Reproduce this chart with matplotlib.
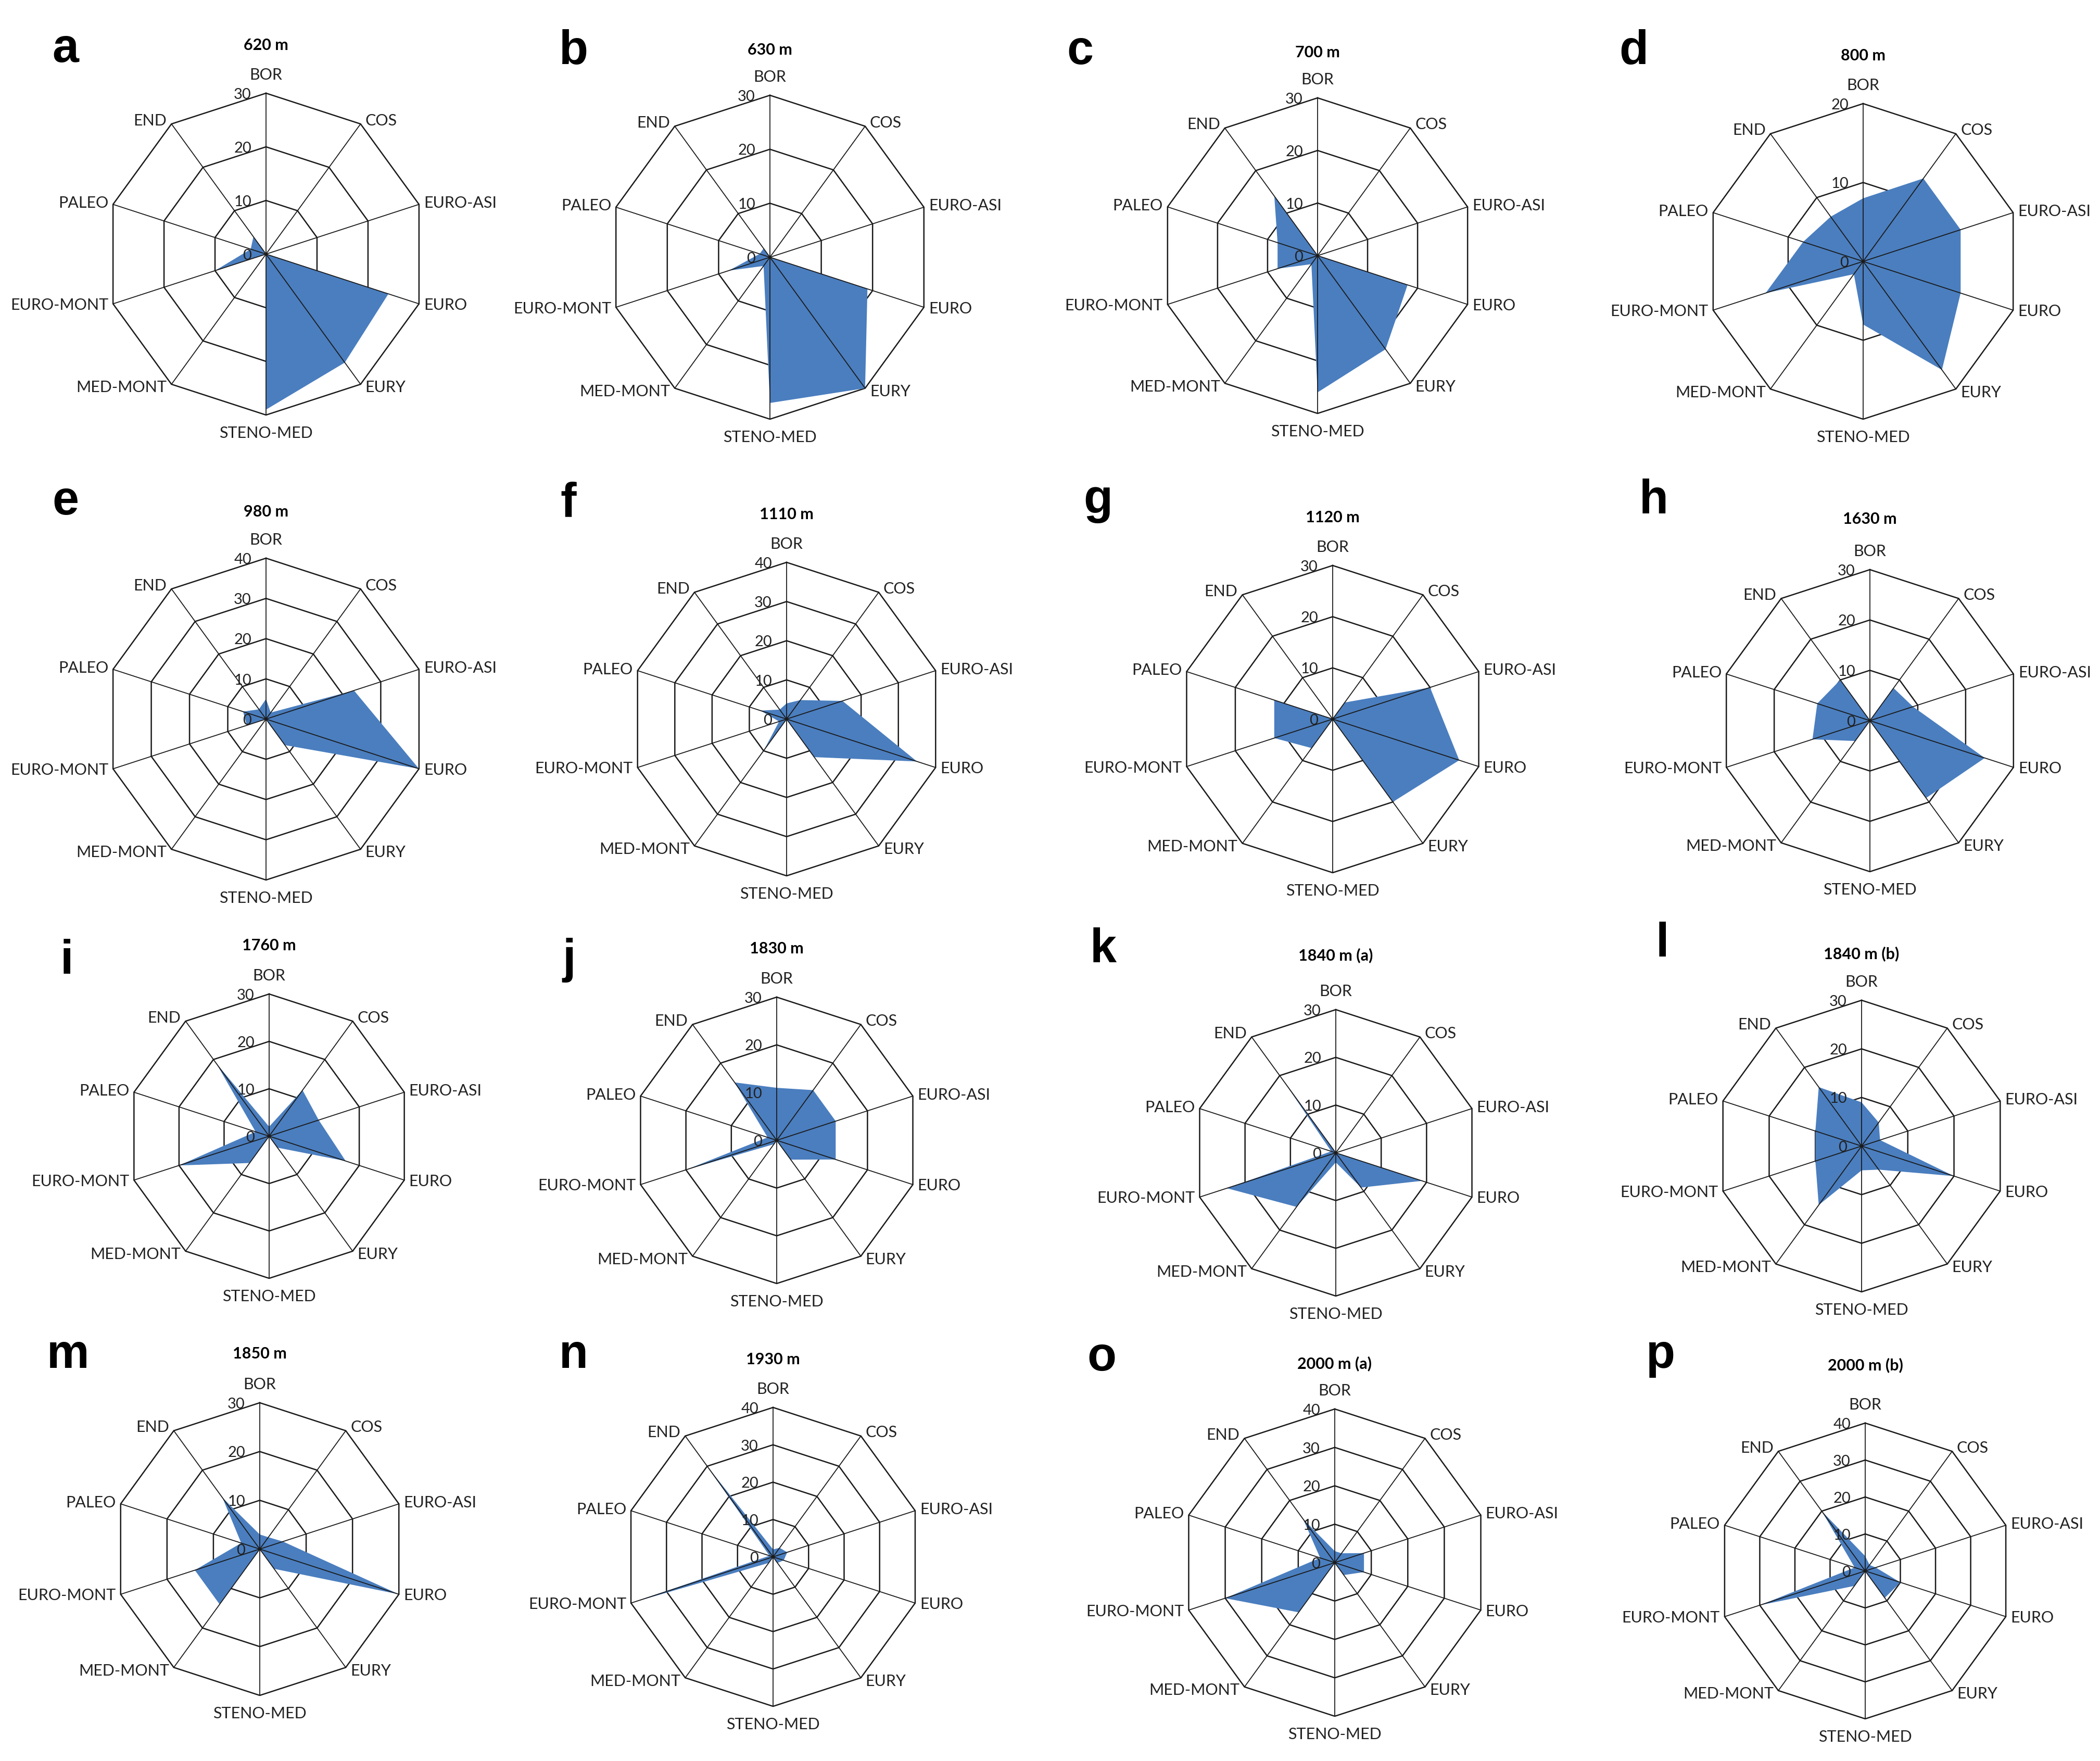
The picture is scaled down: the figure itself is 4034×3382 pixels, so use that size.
import numpy as np
import matplotlib.pyplot as plt

plt.rcParams['font.family'] = ['Lato', 'DejaVu Sans']

# chorotype spectra, clockwise from the top axis
categories = ['BOR', 'COS', 'EURO-ASI', 'EURO', 'EURY', 'STENO-MED',
              'MED-MONT', 'EURO-MONT', 'PALEO', 'END']
letters = list('abcdefghijklmnop')
titles = ['620 m', '630 m', '700 m', '800 m', '980 m', '1110 m', '1120 m',
          '1630 m', '1760 m', '1830 m', '1840 m (a)', '1840 m (b)',
          '1850 m', '1930 m', '2000 m (a)', '2000 m (b)']
scale_max = [30, 30, 30, 20, 40, 40, 30, 30, 30, 30, 30, 30, 30, 40, 40, 40]

v620 = [0, 0, 0, 24, 25, 29, 0, 10, 3, 4]
v630 = [0, 0, 0, 19, 30, 27, 2, 8, 2, 2]
v700 = [0, 0, 0, 18, 22, 26, 2, 8, 8, 14]
v800 = [8, 13, 13, 13, 17, 8, 2, 13, 8, 7]
v980 = [5, 2, 23, 40, 8, 0, 0, 5, 6, 3]
v1110 = [4, 6, 15, 35, 12, 0, 10, 2, 7, 3]
v1120 = [0, 4, 20, 26, 20, 0, 7, 12, 12, 0]
v1630 = [0, 8, 9, 24, 19, 0, 5, 12, 11, 10]
v1760 = [2, 12, 11, 17, 3, 0, 7, 20, 3, 19]
v1830 = [11, 13, 13, 13, 5, 0, 1, 20, 2, 15]
v1840a = [0, 0, 0, 19, 9, 2, 14, 24, 1, 19]
v1840b = [9, 6, 4, 20, 6, 5, 15, 10, 10, 15]
v1850 = [3, 3, 5, 30, 5, 0, 14, 14, 4, 13]
v1930 = [2, 3, 4, 3, 2, 0, 2, 40, 1, 30]
v2000a = [3, 3, 8, 8, 4, 0, 16, 30, 4, 14]
v2000b = [4, 2, 3, 10, 9, 0, 5, 30, 3, 20]

panels = [v620, v630, v700, v800, v980, v1110, v1120, v1630,
          v1760, v1830, v1840a, v1840b, v1850, v1930, v2000a, v2000b]

# layout in pixels of the 4034 x 3382 canvas
W, H = 4034, 3382
centers = [(511, 488), (1479, 494), (2531, 491), (3579, 502),
           (511, 1381), (1511, 1381), (2560, 1381), (3592, 1384),
           (517, 2182), (1492, 2190), (2566, 2214), (3576, 2201),
           (499, 2975), (1485, 2990), (2564, 3001), (3583, 3017)]
radii = [309, 311, 303, 303, 309, 301, 295, 290,
         273, 275, 275, 280, 281, 287, 295, 284]
title_y = [87, 96, 101, 107, 983, 988, 994, 997,
           1816, 1822, 1835, 1832, 2600, 2611, 2619, 2622]
letter_xy = [(100, 119), (1074, 123), (2049, 123), (3110, 123),
             (100, 988), (1076, 991), (2081, 986), (3149, 986),
             (116, 1870), (1080, 1868), (2094, 1848), (3181, 1837),
             (90, 2627), (1074, 2627), (2088, 2632), (3162, 2627)]

FILL = '#4a7ebf'
LINE = '#1a1a1a'
PT = 0.72  # points per pixel at dpi 100

fig = plt.figure(figsize=(W / 100, H / 100), dpi=100)
theta = np.linspace(0, 2 * np.pi, len(categories), endpoint=False)
closed = np.append(theta, theta[0])

for k in range(len(panels)):
    cx, cy = centers[k]
    R = radii[k]
    top = scale_max[k]
    ax = fig.add_axes([(cx - R) / W, 1 - (cy + R) / H, 2 * R / W, 2 * R / H],
                      projection='polar')
    ax.set_theta_zero_location('N')
    ax.set_theta_direction(-1)
    ax.set_ylim(0, top)
    ax.set_xticks([])
    ax.set_yticks([])
    ax.grid(False)
    ax.spines['polar'].set_visible(False)
    ax.patch.set_visible(False)

    # decagon rings, series fill, then spokes on top
    for r in range(10, top + 1, 10):
        ax.plot(closed, [r] * len(closed), color=LINE, lw=1.8, zorder=1,
                clip_on=False)
    vals = panels[k] + [panels[k][0]]
    ax.fill(closed, vals, color=FILL, lw=0, zorder=2)
    for t in theta:
        ax.plot([t, t], [0, top], color=LINE, lw=1.3, zorder=3, clip_on=False)

    for i, cat in enumerate(categories):
        t = theta[i]
        s, c = np.sin(t), np.cos(t)
        if abs(s) < 0.1:
            ha = 'center'
            off = (0, 35 * PT * np.sign(c))
        else:
            ha = 'left' if s > 0 else 'right'
            off = (9 * PT * np.sign(s), 8 * PT * c)
        ax.annotate(cat, xy=(t, top), xytext=off, textcoords='offset points',
                    ha=ha, va='center', fontsize=22, color='#222222',
                    annotation_clip=False)

    for r in range(0, top + 1, 10):
        ax.annotate(str(r), xy=(0, r), xytext=(-28 * PT, -2),
                    textcoords='offset points', ha='right', va='center',
                    fontsize=21, color='#222222', annotation_clip=False)

    fig.text(cx / W, 1 - title_y[k] / H, titles[k], ha='center', va='center',
             fontsize=22, fontweight='bold')
    lx, ly = letter_xy[k]
    fig.text(lx / W, 1 - ly / H, letters[k], ha='left', va='baseline',
             fontsize=66, fontweight='bold', family='Liberation Sans')

fig.savefig('out.png', dpi=100, facecolor='white')
